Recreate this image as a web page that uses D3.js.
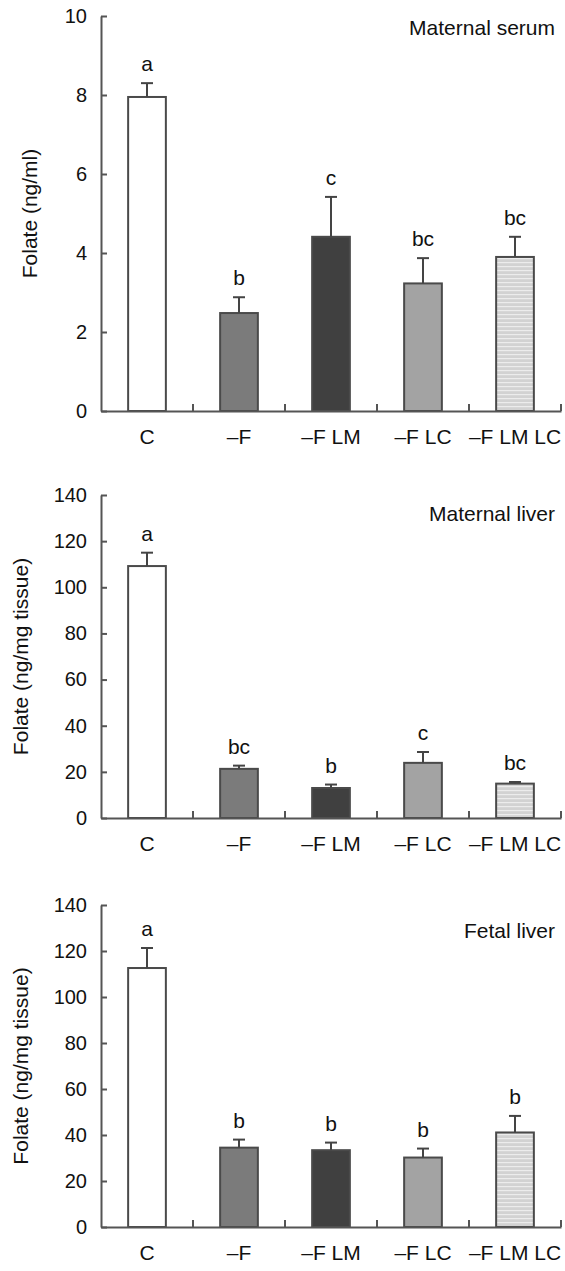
<!DOCTYPE html>
<html lang="en">
<head>
<meta charset="utf-8">
<title>Folate</title>
<script src="https://d3js.org/d3.v7.min.js"></script>
<style>
  body { margin: 0; background: #fff; }
  text { font-family: "Liberation Sans", Arial, Helvetica, sans-serif; fill: #111; }
</style>
</head>
<body>
<div id="chart"></div>
<script>
// groups on the x axis
const groups = ["C", "\u2013F", "\u2013F LM", "\u2013F LC", "\u2013F LM LC"];

// maternal serum (ng/ml)
const serumMean = [7.95, 2.48, 4.41, 3.23, 3.90];
const serumSem = [0.35, 0.40, 1.01, 0.64, 0.51];
const serumSig = ["a", "b", "c", "bc", "bc"];
const serumTicks = [0, 2, 4, 6, 8, 10];

// maternal liver (ng/mg tissue)
const mLiverMean = [109.2, 21.3, 13.0, 23.9, 14.9];
const mLiverSem = [5.8, 1.4, 1.5, 4.7, 0.7];
const mLiverSig = ["a", "bc", "b", "c", "bc"];

// fetal liver (ng/mg tissue)
const fLiverMean = [112.6, 34.5, 33.4, 30.2, 41.1];
const fLiverSem = [8.7, 3.5, 3.3, 3.9, 7.2];
const fLiverSig = ["a", "b", "b", "b", "b"];
const liverTicks = [0, 20, 40, 60, 80, 100, 120, 140];

const width = 565, height = 1271;
const left = 101, right = 561;

const fills = ["#ffffff", "#7b7b7b", "#404040", "#a3a3a3", "url(#stripes)"];

const svg = d3.select("#chart").append("svg")
  .attr("width", width)
  .attr("height", height);

// light grey with faint horizontal lines for the last group
const pat = svg.append("defs").append("pattern")
  .attr("id", "stripes")
  .attr("patternUnits", "userSpaceOnUse")
  .attr("width", 6).attr("height", 4);
pat.append("rect").attr("width", 6).attr("height", 4).attr("fill", "#d2d2d2");
pat.append("rect").attr("y", 2).attr("width", 6).attr("height", 1.2).attr("fill", "#ececec");

const panels = [
  { title: "Maternal serum", ylabel: "Folate (ng/ml)", mean: serumMean, sem: serumSem, sig: serumSig,
    ticks: serumTicks, max: 10, top: 16, bottom: 411, labelX: 30, titleY: 35 },
  { title: "Maternal liver", ylabel: "Folate (ng/mg tissue)", mean: mLiverMean, sem: mLiverSem, sig: mLiverSig,
    ticks: liverTicks, max: 140, top: 495, bottom: 818, labelX: 21, titleY: 521 },
  { title: "Fetal liver", ylabel: "Folate (ng/mg tissue)", mean: fLiverMean, sem: fLiverSem, sig: fLiverSig,
    ticks: liverTicks, max: 140, top: 905, bottom: 1227, labelX: 21, titleY: 938 }
];

const x = d3.scaleBand()
  .domain(groups)
  .range([left, right])
  .paddingInner(0.59)
  .paddingOuter(0.295);

panels.forEach(function (p) {
  const g = svg.append("g");
  const y = d3.scaleLinear().domain([0, p.max]).range([p.bottom, p.top]);

  // bars
  g.selectAll("rect.bar")
    .data(p.mean)
    .join("rect")
    .attr("class", "bar")
    .attr("x", (d, i) => x(groups[i]))
    .attr("width", x.bandwidth())
    .attr("y", d => y(d))
    .attr("height", d => y(0) - y(d))
    .attr("fill", (d, i) => fills[i])
    .attr("stroke", "#4a4a4a")
    .attr("stroke-width", 2);

  // error bars (upper only)
  const err = g.selectAll("g.err")
    .data(p.mean)
    .join("g")
    .attr("class", "err")
    .attr("stroke", "#444")
    .attr("stroke-width", 2);
  err.append("line")
    .attr("x1", (d, i) => x(groups[i]) + x.bandwidth() / 2)
    .attr("x2", (d, i) => x(groups[i]) + x.bandwidth() / 2)
    .attr("y1", d => y(d))
    .attr("y2", (d, i) => y(d + p.sem[i]));
  err.append("line")
    .attr("x1", (d, i) => x(groups[i]) + x.bandwidth() / 2 - 6)
    .attr("x2", (d, i) => x(groups[i]) + x.bandwidth() / 2 + 6)
    .attr("y1", (d, i) => y(d + p.sem[i]))
    .attr("y2", (d, i) => y(d + p.sem[i]));

  // significance letters
  g.selectAll("text.sig")
    .data(p.mean)
    .join("text")
    .attr("class", "sig")
    .attr("x", (d, i) => x(groups[i]) + x.bandwidth() / 2)
    .attr("y", (d, i) => y(d + p.sem[i]) - 12)
    .attr("text-anchor", "middle")
    .style("font-size", "21px")
    .text((d, i) => p.sig[i]);

  // y axis
  const yAxis = g.append("g")
    .attr("transform", "translate(" + left + ",0)")
    .call(d3.axisLeft(y).tickValues(p.ticks).tickSize(-6).tickSizeOuter(0).tickPadding(14));
  yAxis.selectAll("text").style("font-size", "20px");
  yAxis.selectAll("path, line").attr("stroke", "#555").attr("stroke-width", 2);

  // x axis with boundary ticks pointing up
  const xAxis = g.append("g")
    .attr("transform", "translate(0," + p.bottom + ")")
    .call(d3.axisBottom(x).tickSize(0).tickSizeOuter(0).tickPadding(18));
  xAxis.selectAll("text").style("font-size", "21px");
  xAxis.select("path").attr("stroke", "#555").attr("stroke-width", 2);
  g.selectAll("line.xtick")
    .data(groups)
    .join("line")
    .attr("class", "xtick")
    .attr("x1", (d, i) => left + (i + 1) * x.step())
    .attr("x2", (d, i) => left + (i + 1) * x.step())
    .attr("y1", p.bottom)
    .attr("y2", p.bottom - 7)
    .attr("stroke", "#555")
    .attr("stroke-width", 2);

  // y label
  g.append("text")
    .attr("transform", "translate(" + p.labelX + "," + ((p.top + p.bottom) / 2) + ") rotate(-90)")
    .attr("text-anchor", "middle")
    .attr("dy", "0.35em")
    .style("font-size", "21px")
    .text(p.ylabel);

  // panel title
  g.append("text")
    .attr("x", 555)
    .attr("y", p.titleY)
    .attr("text-anchor", "end")
    .style("font-size", "21px")
    .text(p.title);
});
</script>
</body>
</html>
